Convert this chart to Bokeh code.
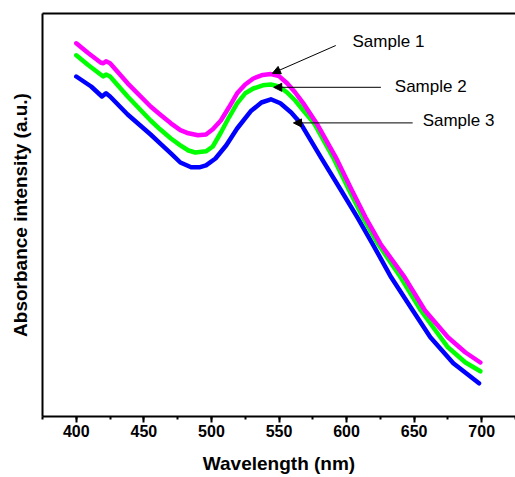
from bokeh.plotting import figure
from bokeh.models import (Range1d, LinearAxis, FixedTicker, SingleIntervalTicker,
                          Arrow, NormalHead, ColumnDataSource)
from bokeh.core.properties import value
from bokeh.embed import file_html
from bokeh.resources import INLINE

FONT = "Liberation Sans"

# ---- data ----
wl_s1 = [400, 409, 418, 420, 422, 425, 438, 455, 462, 470,
         477, 483, 490, 496, 501, 507, 513, 519, 525, 531,
         538, 544, 550, 556, 562, 568, 578, 592, 604, 614,
         625, 643, 658, 675, 688, 699]
abs_s1 = [0.933, 0.908, 0.885, 0.883, 0.888, 0.883, 0.833, 0.775, 0.755, 0.733,
          0.716, 0.708, 0.703, 0.705, 0.718, 0.740, 0.773, 0.808, 0.830, 0.845,
          0.854, 0.856, 0.851, 0.833, 0.810, 0.783, 0.732, 0.648, 0.565, 0.498,
          0.432, 0.348, 0.265, 0.198, 0.160, 0.135]

wl_s2 = [400, 409, 418, 420, 422, 425, 438, 455, 462, 470,
         477, 483, 488, 496, 501, 507, 513, 519, 525, 531,
         538, 544, 550, 556, 562, 568, 576, 590, 602, 612,
         623, 640, 655, 675, 688, 699]
abs_s2 = [0.903, 0.878, 0.855, 0.850, 0.855, 0.850, 0.800, 0.740, 0.718, 0.695,
          0.678, 0.665, 0.660, 0.663, 0.675, 0.710, 0.748, 0.783, 0.808, 0.820,
          0.828, 0.830, 0.825, 0.810, 0.790, 0.765, 0.733, 0.648, 0.565, 0.498,
          0.433, 0.348, 0.265, 0.173, 0.135, 0.113]

wl_s3 = [400, 411, 419, 422, 425, 438, 455, 462, 470, 477,
         485, 491, 496, 503, 511, 519, 529, 537, 544, 551,
         559, 566, 581, 596, 608, 619, 633, 649, 662, 679, 698]
abs_s3 = [0.850, 0.825, 0.800, 0.808, 0.800, 0.755, 0.705, 0.683, 0.658, 0.635,
          0.623, 0.623, 0.628, 0.645, 0.678, 0.720, 0.763, 0.785, 0.793, 0.783,
          0.760, 0.733, 0.648, 0.565, 0.498, 0.433, 0.348, 0.265, 0.198, 0.133, 0.083]

series_names = ["Sample 1", "Sample 2", "Sample 3"]
series_colors = ["#ff00ff", "#00ff00", "#0000ff"]

# annotation labels (text anchor: left, baseline)
label_x = [604.4, 635.7, 656.3]
label_y = [0.938, 0.826, 0.740]
# arrows: start -> end
arrow_x0 = [592.0, 625.4, 648.9]
arrow_y0 = [0.9275, 0.823, 0.734]
arrow_x1 = [545.1, 546.1, 560.7]
arrow_y1 = [0.858, 0.823, 0.734]

x_ticks_interval = 50

# ---- figure ----
p = figure(width=515, height=477, output_backend="svg", toolbar_location=None,
           x_range=Range1d(375, 725), y_range=Range1d(0, 1.0075),
           min_border_left=42, min_border_right=0, min_border_top=13, min_border_bottom=61)
p.outline_line_color = None
p.grid.visible = False
p.background_fill_color = "white"
p.border_fill_color = "white"

# x axis
xa = p.xaxis[0]
xa.ticker = SingleIntervalTicker(interval=x_ticks_interval, num_minor_ticks=2)
xa.axis_line_width = 2
xa.axis_line_color = "black"
xa.major_tick_line_width = 2
xa.minor_tick_line_width = 2
xa.major_tick_in = 0
xa.major_tick_out = 6
xa.minor_tick_in = 0
xa.minor_tick_out = 3
xa.major_label_text_font = FONT
xa.major_label_text_font_size = "16px"
xa.major_label_text_font_style = "bold"
xa.major_label_text_color = "black"
xa.major_label_standoff = 2
xa.axis_label = "Wavelength (nm)"
xa.axis_label_text_font = FONT
xa.axis_label_text_font_size = "19px"
xa.axis_label_text_font_style = "bold"
xa.axis_label_text_color = "black"
xa.axis_label_standoff = 13

# y axis (no ticks)
ya = p.yaxis[0]
ya.ticker = FixedTicker(ticks=[])
ya.axis_line_width = 2
ya.axis_line_color = "black"
ya.major_tick_line_color = None
ya.minor_tick_line_color = None
ya.major_label_text_font_size = "0px"
ya.axis_label = "Absorbance intensity (a.u.)"
ya.axis_label_text_font = FONT
ya.axis_label_text_font_size = "19px"
ya.axis_label_text_font_style = "bold"
ya.axis_label_text_color = "black"
ya.axis_label_standoff = 12

# top frame line
top = LinearAxis(ticker=FixedTicker(ticks=[]), axis_line_width=2, axis_line_color="black",
                 major_tick_line_color=None, minor_tick_line_color=None,
                 major_label_text_font_size="0px")
p.add_layout(top, "above")

# curves (Sample 3 drawn first so Sample 1 is on top)
for wl, ab, col in [(wl_s3, abs_s3, series_colors[2]),
                    (wl_s2, abs_s2, series_colors[1]),
                    (wl_s1, abs_s1, series_colors[0])]:
    p.line(wl, ab, line_color=col, line_width=4.5, line_join="round", line_cap="round")

# arrows
for x0, y0, x1, y1 in zip(arrow_x0, arrow_y0, arrow_x1, arrow_y1):
    p.add_layout(Arrow(end=NormalHead(size=8, fill_color="black", line_color="black", line_width=1),
                       x_start=x0, y_start=y0, x_end=x1, y_end=y1,
                       line_color="black", line_width=1))

# labels
src = ColumnDataSource(dict(x=label_x, y=label_y, t=series_names))
p.text(x="x", y="y", text="t", source=src, text_font=value(FONT),
       text_font_size=value("17px"), text_color="black",
       text_align="left", text_baseline="alphabetic")

open("out.html", "w").write(file_html(p, INLINE))
